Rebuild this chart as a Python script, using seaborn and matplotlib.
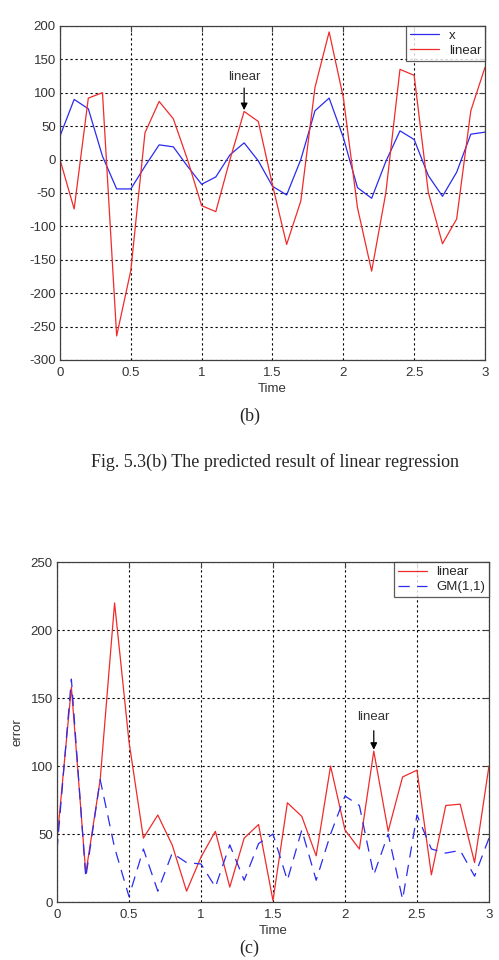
import numpy as np
import pandas as pd
import matplotlib
matplotlib.use('Agg')
import matplotlib.pyplot as plt
import seaborn as sns

# tempo (0 a 3 em passos de 0.1)
time = [round(i * 0.1, 1) for i in range(31)]

# Figura (b): sinal x e previsão linear
x_signal = [35, 90, 76, 5, -44, -44, -10, 22, 19, -10, -37, -26, 7, 25, -2, -40,
            -53, 0, 73, 92, 33, -42, -58, -3, 43, 30, -24, -55, -19, 38, 41]
linear_pred = [0, -74, 92, 100, -264, -166, 40, 87, 61, 0, -69, -78, 0, 72, 57, -38,
               -127, -62, 108, 191, 93, -72, -167, -50, 135, 126, -49, -126, -89, 73, 138]

# Figura (c): erro absoluto
linear_err = [45, 158, 21, 90, 220, 118, 47, 64, 42, 8, 33, 52, 11, 47, 57, 1,
              73, 63, 34, 100, 53, 39, 111, 52, 92, 97, 20, 71, 72, 29, 100]
gm_err = [38, 164, 18, 90, 40, 4, 39, 8, 36, 29, 28, 11, 42, 16, 43, 50,
          16, 53, 16, 50, 78, 71, 20, 50, 2, 64, 39, 36, 38, 19, 47]

sns.set_style('white')
plt.rcParams['font.family'] = ['Liberation Sans', 'DejaVu Sans']
plt.rcParams['axes.unicode_minus'] = False

RED = '#f02b2b'
BLUE = '#2b2bf0'
TXT = '#333333'
FS = 9.5

fig = plt.figure(figsize=(4.99, 9.60), dpi=100)


def estilo_matlab(ax):
    ax.grid(True, color='black', linestyle=(0, (2, 2.5)), linewidth=0.8)
    for s in ax.spines.values():
        s.set_color('#404040')
        s.set_linewidth(0.9)
    ax.tick_params(direction='in', length=4, labelsize=FS, colors='#404040',
                   labelcolor=TXT, top=True, right=True)
    ax.tick_params(axis='x', pad=5)
    ax.tick_params(axis='y', pad=3)
    ax.set_xlim(0, 3)
    ax.set_xticks([0, 0.5, 1, 1.5, 2, 2.5, 3])
    ax.set_xticklabels(['0', '0.5', '1', '1.5', '2', '2.5', '3'])


def legenda(ax):
    leg = ax.legend(loc='upper right', fontsize=FS, frameon=True, fancybox=False,
                    borderaxespad=0, handlelength=2.2, handletextpad=0.7,
                    borderpad=0.3, labelspacing=0.2)
    leg.get_frame().set_edgecolor(TXT)
    leg.get_frame().set_linewidth(0.9)


def seta(ax, x, y_txt, y0, y1):
    ax.text(x, y_txt, 'linear', ha='center', va='center', fontsize=FS, color=TXT)
    ax.annotate('', xy=(x, y1), xytext=(x, y0),
                arrowprops=dict(arrowstyle='-|>', color='black', lw=0.9,
                                shrinkA=0, shrinkB=0, mutation_scale=10))


# VISUALIZAÇÃO (b)
ax1 = fig.add_axes([0.1202, 0.625, 0.8517, 0.348])
sns.lineplot(x=time, y=x_signal, color=BLUE, linewidth=0.9, label='x', ax=ax1)
sns.lineplot(x=time, y=linear_pred, color=RED, linewidth=0.9, label='linear', ax=ax1)
ax1.set_ylim(-300, 200)
ax1.set_yticks(range(-300, 201, 50))
estilo_matlab(ax1)
ax1.set_xlabel('Time', fontsize=FS, color=TXT, labelpad=3)
ax1.set_ylabel('')
legenda(ax1)
seta(ax1, 1.3, 124, 107, 74)

fig.text(0.5, 1 - 416 / 960, '(b)', ha='center', va='center',
         fontsize=13, family='Liberation Serif')
fig.text(0.551, 1 - 462 / 960, 'Fig. 5.3(b) The predicted result of linear regression',
         ha='center', va='center', fontsize=13, family='Liberation Serif')

# VISUALIZAÇÃO (c)
ax2 = fig.add_axes([0.1142, 0.0604, 0.8657, 0.354])
sns.lineplot(x=time, y=linear_err, color=RED, linewidth=0.9, label='linear', ax=ax2)
sns.lineplot(x=time, y=gm_err, color=BLUE, linewidth=0.9, label='GM(1,1)',
             linestyle=(0, (9, 6)), ax=ax2)
ax2.set_ylim(0, 250)
ax2.set_yticks(range(0, 251, 50))
estilo_matlab(ax2)
ax2.set_xlabel('Time', fontsize=FS, color=TXT, labelpad=3)
ax2.set_ylabel('error', fontsize=FS, color=TXT, labelpad=5)
legenda(ax2)
seta(ax2, 2.2, 136, 126, 112)

fig.text(0.5, 1 - 948 / 960, '(c)', ha='center', va='center',
         fontsize=13, family='Liberation Serif')

plt.savefig('out.png', dpi=100)
